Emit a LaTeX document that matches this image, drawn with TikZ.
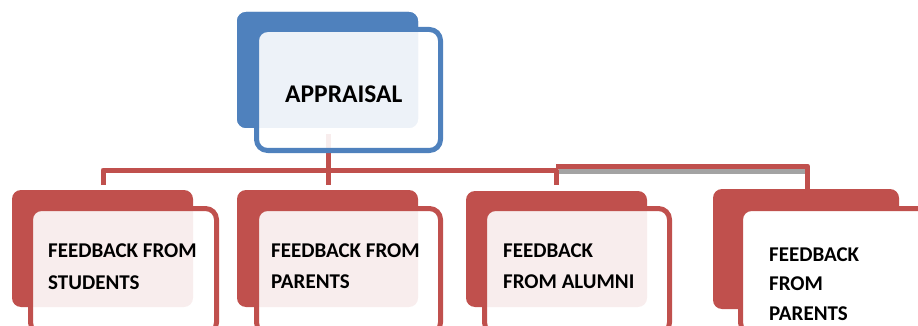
\documentclass[tikz,border=0pt]{standalone}
\usepackage{fontspec}
\setmainfont{Carlito}
\definecolor{bluec}{HTML}{4F81BD}
\definecolor{redc}{HTML}{C0504D}
\definecolor{shadowc}{HTML}{A3A3A3}
\begin{document}
\begin{tikzpicture}[x=1pt,y=-1pt,line join=round,
  backbox/.style={fill=#1,rounded corners=9pt,inner sep=0pt,outer sep=0pt,anchor=north west},
  frontbox/.style={draw=#1,line width=5pt,fill=white,fill opacity=0.9,rounded corners=11pt,inner sep=0pt,outer sep=0pt,anchor=north west},
  conn/.style={draw=redc,line width=5pt},
  lbl/.style={font=\bfseries\fontsize{21}{21}\selectfont,anchor=base west,inner sep=0pt,text=black},
  biglbl/.style={font=\bfseries\fontsize{25.5}{25.5}\selectfont,anchor=base west,inner sep=0pt,text=black}]
\useasboundingbox (0,0) rectangle (918,326);
\clip (0,0) rectangle (918,326);
% back boxes (positions only for connector references)
\path (237,12) node[backbox=bluec,minimum width=181pt,minimum height=116pt] (aback) {};
\coordinate (top) at (328,134);
\coordinate (hr) at (556,170);
\coordinate (ul) at (556,166);
\coordinate (ur) at (807.5,166);
\coordinate (s1) at (559,171.3);
\coordinate (s2) at (805,171.3);
\coordinate (e1) at (103,185);
\coordinate (e2) at (328,185);
\coordinate (e3) at (556,185);
\coordinate (e4) at (807.5,192);
% connectors
\draw[shadowc,line width=4.6pt] (s1) -- (s2);
\draw[conn] (top) -- (e2);
\draw[conn] (e1) |- (hr) -- (e3);
\draw[conn] (ul) -- (ur) -- (e4);
% top group
\node[backbox=bluec,minimum width=181pt,minimum height=116pt] at (237,12) (aback2) {};
\node[frontbox=bluec,minimum width=184pt,minimum height=121pt] at (256.5,29.5) (afront) {};
\node[biglbl] at (285,103) (atext) {APPRAISAL};
% bottom groups
\node[backbox=redc,minimum width=181pt,minimum height=117pt] at (12,190) (b1) {};
\node[frontbox=redc,minimum width=186pt,minimum height=125pt] at (30.5,208.5) (f1) {};
\node[backbox=redc,minimum width=181pt,minimum height=117pt] at (237,190) (b2) {};
\node[frontbox=redc,minimum width=184pt,minimum height=125pt] at (256.5,208.5) (f2) {};
\node[backbox=redc,minimum width=181pt,minimum height=116pt] at (466,191) (b3) {};
\node[frontbox=redc,minimum width=185pt,minimum height=125pt] at (484.5,208.5) (f3) {};
\node[backbox=redc,minimum width=186pt,minimum height=120pt] at (713,189) (b4) {};
\node[frontbox=redc,fill opacity=1,minimum width=200pt,minimum height=125pt] at (740.5,208.5) (f4) {};
% labels
\node[lbl] at (48,257) (t1a) {FEEDBACK FROM};
\node[lbl] at (48,289) (t1b) {STUDENTS};
\node[lbl] at (271,257) (t2a) {FEEDBACK FROM};
\node[lbl] at (271,288) (t2b) {PARENTS};
\node[lbl] at (503,257) (t3a) {FEEDBACK};
\node[lbl] at (503,288) (t3b) {FROM ALUMNI};
\node[lbl] at (769,261) (t4a) {FEEDBACK};
\node[lbl] at (769,290) (t4b) {FROM};
\node[lbl] at (769,320) (t4c) {PARENTS};
\end{tikzpicture}
\end{document}
